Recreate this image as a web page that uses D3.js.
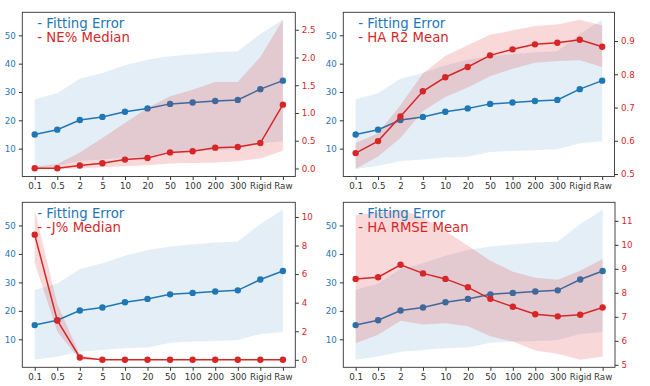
<!DOCTYPE html>
<html lang="en">
<head>
  <meta charset="UTF-8">
  <title>Fitting Error vs metrics</title>
  <script src="https://d3js.org/d3.v7.min.js"></script>
  <style>
    body { margin: 0; background: #fff; }
    svg, svg text { font-family: "DejaVu Sans", sans-serif; }
    svg { display: block; }
    .tick line { stroke: #333; }
    .domain { display: none; }
    .xaxis text { fill: #333; }
  </style>
</head>
<body>
  <svg id="chart" width="650" height="386"></svg>
  <script>
    const labels = ["0.1", "0.5", "2", "5", "10", "20", "50", "100", "200", "300", "Rigid", "Raw"];

    // Fitting error (left axis, shared by all panels)
    const fitMean = [15.0, 16.7, 20.1, 21.2, 23.0, 24.2, 25.8, 26.3, 26.8, 27.2, 31.0, 34.0];
    const fitLow  = [2.8, 3.95, 5.6, 6.2, 6.9, 7.1, 8.8, 9.2, 9.4, 9.8, 11.9, 12.6];
    const fitHigh = [27.4, 29.6, 34.7, 36.7, 39.4, 41.4, 42.6, 43.3, 44.0, 44.4, 50.5, 55.5];

    // NE% median
    const neMed  = [0.005, 0.005, 0.054, 0.095, 0.16, 0.19, 0.29, 0.31, 0.375, 0.387, 0.458, 1.15];
    const neLow  = [-0.01, -0.01, 0.0, 0.02, 0.04, 0.06, 0.09, 0.10, 0.11, 0.13, 0.18, 0.32];
    const neHigh = [0.03, 0.08, 0.29, 0.55, 0.82, 1.09, 1.30, 1.42, 1.56, 1.56, 2.01, 2.68];

    // HA R2 mean
    const r2Mean = [0.563, 0.599, 0.673, 0.749, 0.791, 0.822, 0.857, 0.875, 0.890, 0.895, 0.904, 0.883];
    const r2Low  = [0.515, 0.553, 0.608, 0.689, 0.732, 0.760, 0.794, 0.817, 0.835, 0.840, 0.842, 0.822];
    const r2High = [0.593, 0.623, 0.707, 0.802, 0.855, 0.887, 0.919, 0.932, 0.945, 0.950, 0.964, 0.947];

    // -J% median
    const jMed  = [8.76, 2.75, 0.16, 0, 0, 0, 0, 0, 0, 0, 0, 0];
    const jLow  = [6.78, 1.98, 0.0, 0, 0, 0, 0, 0, 0, 0, 0, 0];
    const jHigh = [10.5, 3.9, 0.35, 0, 0, 0, 0, 0, 0, 0, 0, 0];

    // HA RMSE mean
    const rmseMean = [8.58, 8.65, 9.17, 8.81, 8.58, 8.23, 7.75, 7.42, 7.11, 7.02, 7.09, 7.39];
    const rmseLow  = [5.9, 6.25, 6.84, 6.68, 6.73, 6.61, 6.19, 5.97, 5.6, 5.46, 5.21, 5.35];
    const rmseHigh = [11.24, 11.35, 11.46, 11.14, 10.58, 9.96, 9.34, 8.88, 8.63, 8.55, 8.92, 9.41];

    const leftTicks = [10, 20, 30, 40, 50];
    const neTicks = [0, 0.5, 1.0, 1.5, 2.0, 2.5];
    const r2Ticks = [0.5, 0.6, 0.7, 0.8, 0.9];
    const jTicks = [0, 2, 4, 6, 8, 10];
    const rmseTicks = [5, 6, 7, 8, 9, 10, 11];

    const blue = "#1f77b4", red = "#d62728";
    const font = "DejaVu Sans";
    const tickFont = 8.7;

    const panels = [
      {title: "- NE% Median",   mid: neMed,    lo: neLow,   hi: neHigh,   ticks: neTicks,   fmt: d3.format(".1f"),
       box: {x0: 22.3, x1: 295.3, y0: 12.3, y1: 176.5}},
      {title: "- HA R2 Mean",   mid: r2Mean,   lo: r2Low,   hi: r2High,   ticks: r2Ticks,   fmt: d3.format(".1f"),
       box: {x0: 343.3, x1: 614.5, y0: 12.3, y1: 176.5}},
      {title: "- -J% Median",   mid: jMed,     lo: jLow,    hi: jHigh,    ticks: jTicks,    fmt: d3.format("d"),
       box: {x0: 22.3, x1: 295.3, y0: 202.3, y1: 367.3}},
      {title: "- HA RMSE Mean", mid: rmseMean, lo: rmseLow, hi: rmseHigh, ticks: rmseTicks, fmt: d3.format("d"),
       box: {x0: 343.3, x1: 615, y0: 202.3, y1: 367.3}}
    ];

    const svg = d3.select("#chart");

    // matplotlib-like autoscale: data extent padded by 5%
    function padded(lo, hi) {
      const mn = d3.min(lo), mx = d3.max(hi), m = (mx - mn) * 0.05;
      return [mn - m, mx + m];
    }

    panels.forEach(p => {
      const b = p.box, w = b.x1 - b.x0, h = b.y1 - b.y0;
      const g = svg.append("g").attr("transform", `translate(${b.x0},${b.y0})`);

      const x = d3.scalePoint().domain(labels).range([0, w]).padding(0.55);
      const yL = d3.scaleLinear().domain(padded(fitLow, fitHigh)).range([h, 0]);
      const yR = d3.scaleLinear().domain(padded(p.lo, p.hi)).range([h, 0]);

      const clip = "clip" + Math.round(b.x0) + "_" + Math.round(b.y0);
      g.append("clipPath").attr("id", clip).append("rect").attr("width", w).attr("height", h);
      const plot = g.append("g").attr("clip-path", `url(#${clip})`);

      // primary axes: fitting error band + line
      plot.append("path")
        .datum(labels)
        .attr("fill", blue).attr("fill-opacity", 0.12)
        .attr("d", d3.area().x(d => x(d)).y0((d, i) => yL(fitLow[i])).y1((d, i) => yL(fitHigh[i])));
      plot.append("path")
        .datum(labels)
        .attr("fill", "none").attr("stroke", blue).attr("stroke-width", 1.5)
        .attr("d", d3.line().x(d => x(d)).y((d, i) => yL(fitMean[i])));
      plot.selectAll(".bdot").data(labels).join("circle")
        .attr("cx", d => x(d)).attr("cy", (d, i) => yL(fitMean[i])).attr("r", 3.2).attr("fill", blue);

      // twin axes: metric band + line
      plot.append("path")
        .datum(labels)
        .attr("fill", red).attr("fill-opacity", 0.18)
        .attr("d", d3.area().x(d => x(d)).y0((d, i) => yR(p.lo[i])).y1((d, i) => yR(p.hi[i])));
      plot.append("path")
        .datum(labels)
        .attr("fill", "none").attr("stroke", red).attr("stroke-width", 1.5)
        .attr("d", d3.line().x(d => x(d)).y((d, i) => yR(p.mid[i])));
      plot.selectAll(".rdot").data(labels).join("circle")
        .attr("cx", d => x(d)).attr("cy", (d, i) => yR(p.mid[i])).attr("r", 3.2).attr("fill", red);

      // axes
      const ax = g.append("g").attr("class", "xaxis").attr("transform", `translate(0,${h})`)
        .call(d3.axisBottom(x).tickSize(3.5).tickPadding(3));
      ax.attr("font-family", font).attr("font-size", tickFont).selectAll("text").attr("font-size", tickFont);

      const al = g.append("g").call(d3.axisLeft(yL).tickValues(leftTicks).tickSize(3.5).tickPadding(3));
      al.attr("font-family", font).attr("font-size", tickFont)
        .selectAll("text").attr("font-size", tickFont).attr("fill", blue);

      const ar = g.append("g").attr("transform", `translate(${w},0)`)
        .call(d3.axisRight(yR).tickValues(p.ticks).tickFormat(p.fmt).tickSize(3.5).tickPadding(3));
      ar.attr("font-family", font).attr("font-size", tickFont)
        .selectAll("text").attr("font-size", tickFont).attr("fill", red);

      g.append("rect").attr("width", w).attr("height", h)
        .attr("fill", "none").attr("stroke", "#333").attr("stroke-width", 0.9);

      // legend text
      g.append("text").attr("x", 15).attr("y", 15.5).attr("font-size", 13.3).attr("fill", blue)
        .text("- Fitting Error");
      g.append("text").attr("x", 15).attr("y", 29.5).attr("font-size", 13.3).attr("fill", red)
        .text(p.title);
    });
  </script>
</body>
</html>
